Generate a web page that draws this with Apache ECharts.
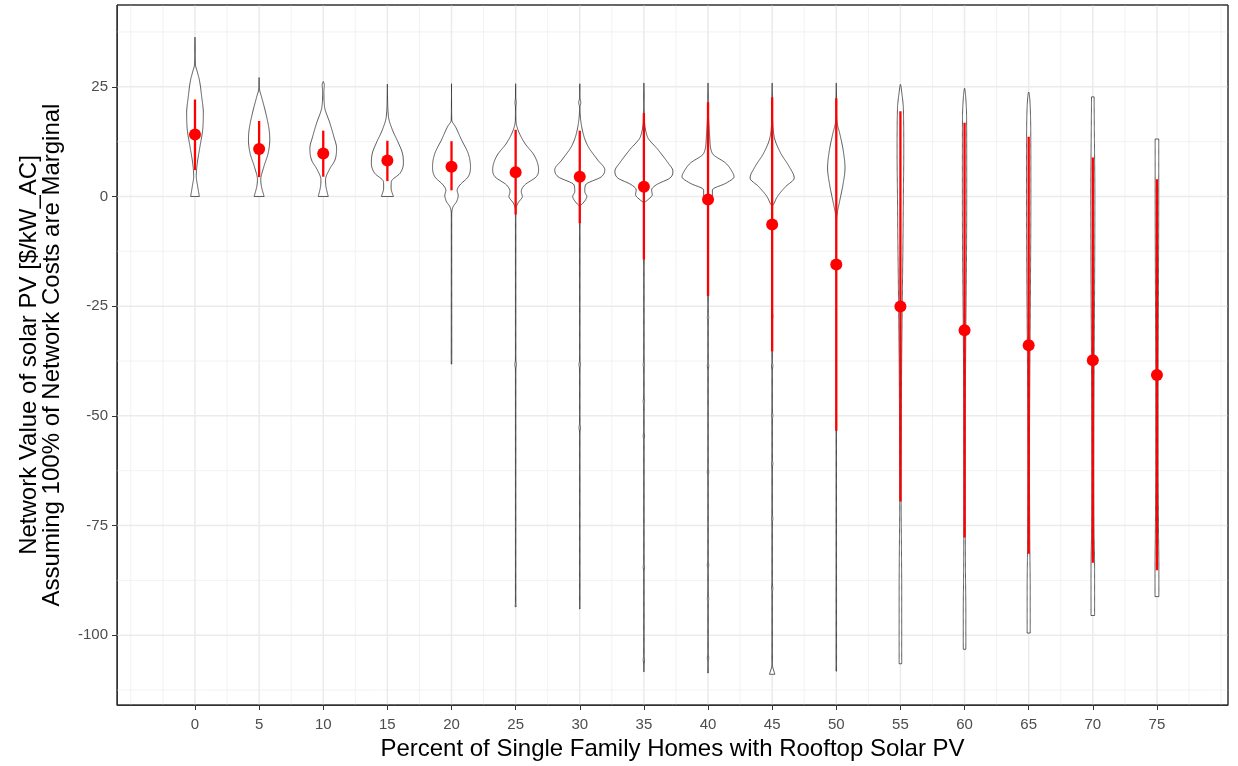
<!DOCTYPE html>
<html>
<head>
<meta charset="utf-8">
<script src="https://cdn.jsdelivr.net/npm/echarts@6/dist/echarts.min.js"></script>
<style>
  html, body { margin: 0; padding: 0; background: #ffffff; }
  #chart { width: 1238px; height: 766px; }
</style>
</head>
<body>
<div id="chart"></div>
<script>
// Penetration levels (percent of single family homes with rooftop PV)
const categories = [0, 5, 10, 15, 20, 25, 30, 35, 40, 45, 50, 55, 60, 65, 70, 75];

// Summary per level: mean and the extent of the red interval
const meanValues  = [14.1, 10.8, 9.8, 8.2, 6.8, 5.5, 4.5, 2.2, -0.7, -6.4, -15.5, -25.1, -30.5, -33.9, -37.3, -40.7];
const lowerValues = [6.0, 4.4, 4.5, 3.5, 1.4, -4.1, -6.1, -14.4, -22.7, -35.3, -53.4, -69.5, -77.7, -81.4, -83.5, -85.2];
const upperValues = [22.1, 17.2, 15.0, 12.7, 12.6, 15.2, 15.0, 19.0, 21.5, 22.6, 22.4, 19.4, 16.8, 13.6, 8.9, 3.9];

// Violin outlines: [value, half-width in axis units], from top to bottom
const density00 = [[36.3,0],[30.4,0.02],[28.1,0.21],[26.6,0.34],[22.8,0.52],[19.0,0.65],[15.2,0.60],[11.4,0.39],[7.6,0.18],[4.6,0.10],[2.3,0.21],[0,0.34]];
const density05 = [[27.1,0],[24.3,0.04],[22.8,0.18],[19.0,0.52],[15.2,0.78],[12.9,0.83],[9.8,0.70],[6.8,0.37],[3.8,0.13],[2.3,0.18],[0,0.39]];
const density10 = [[26.2,0],[25.5,0.08],[23.9,0.05],[20.5,0.10],[16.7,0.52],[13.6,0.83],[11.0,1.04],[8.3,0.91],[6.1,0.47],[3.8,0.18],[2.3,0.21],[0,0.39]];
const density15 = [[25.6,0],[18.3,0.08],[15.2,0.39],[12.2,0.86],[9.9,1.17],[7.6,1.25],[5.3,0.99],[3.4,0.31],[1.9,0.29],[0,0.47]];
const density20 = [[25.7,0],[17.4,0.02],[15.9,0.31],[12.9,0.78],[9.8,1.30],[6.8,1.48],[4.5,1.30],[2.6,0.65],[1.4,0.44],[0.3,0.52],[-1.2,0.39],[-2.3,0.13],[-4,0.015],[-38.2,0.02]];
const density25 = [[25.7,0],[22.4,0.015],[21.4,0.05],[20.4,0.015],[17.4,0.02],[15.2,0.18],[12.2,0.70],[9.2,1.48],[6.1,1.79],[4.5,1.61],[2.6,0.70],[1.1,0.44],[0,0.52],[-1.5,0.18],[-3.0,0.02],[-5,0.015],[-37.3,0.015],[-38.3,0.06],[-39.3,0.015],[-92.5,0.015],[-93.5,0.04]];
const density30 = [[25.7,0],[22.5,0.015],[21.4,0.08],[20.3,0.015],[14.4,0.26],[11.4,0.65],[8.3,1.40],[6.1,1.95],[4.5,1.69],[2.6,0.44],[1.1,0.39],[0,0.55],[-1.5,0.26],[-2.3,0.02],[-4,0.015],[-37.3,0.015],[-38.3,0.06],[-39.3,0.015],[-51.7,0.015],[-52.7,0.06],[-53.7,0.015],[-94.0,0.02]];
const density35 = [[25.8,0.015],[20,0.02],[13.7,0.26],[10.7,1.09],[7.7,1.87],[5.8,2.26],[4.2,2.03],[2.7,0.99],[1.5,0.60],[0.4,0.65],[-0.8,0.29],[-1.5,0.02],[-4,0.015],[-37.3,0.015],[-38.3,0.055],[-39.3,0.015],[-45.7,0.015],[-46.7,0.055],[-47.7,0.015],[-53.6,0.015],[-54.6,0.055],[-55.6,0.015],[-83.4,0.015],[-84.4,0.055],[-85.4,0.015],[-104.6,0.015],[-105.6,0.055],[-106.6,0.015],[-108.3,0.02]];
const density40 = [[25.8,0.015],[20,0.02],[13.6,0.13],[9.8,0.34],[7.6,1.38],[5.7,1.87],[4.5,2.03],[3.0,1.38],[1.5,0.34],[0.3,0.34],[-0.8,0.13],[-1.5,0.02],[-4,0.015],[-26.6,0.015],[-27.6,0.055],[-28.6,0.015],[-37.6,0.015],[-38.6,0.055],[-39.6,0.015],[-61.8,0.015],[-62.8,0.055],[-63.8,0.015],[-83.0,0.015],[-84.0,0.055],[-85.0,0.015],[-90.6,0.015],[-91.6,0.055],[-92.6,0.015],[-104.2,0.015],[-105.2,0.055],[-106.2,0.015],[-108.6,0.02]];
const density45 = [[25.8,0.015],[20,0.02],[13.6,0.16],[9.8,0.68],[6.8,1.33],[4.2,1.72],[2.3,1.07],[0,0.41],[-1.5,0.16],[-2.3,0.02],[-4,0.015],[-26.3,0.015],[-27.3,0.055],[-28.3,0.015],[-37.6,0.015],[-38.6,0.055],[-39.6,0.015],[-48.9,0.015],[-49.9,0.055],[-50.9,0.015],[-59.9,0.015],[-60.9,0.055],[-61.9,0.015],[-72.4,0.015],[-73.4,0.055],[-74.4,0.015],[-88.3,0.015],[-89.3,0.055],[-90.3,0.015],[-106.7,0.02],[-108.9,0.21]];
const density50 = [[25.8,0.015],[20,0.02],[17.1,0.05],[14.1,0.29],[10.3,0.55],[6.5,0.68],[2.7,0.52],[-1.1,0.26],[-4.2,0.05],[-5.7,0.02],[-10,0.015],[-108.2,0.02]];
const density55 = [[25.5,0.02],[24,0.09],[20,0.23],[10,0.26],[0,0.23],[-10,0.20],[-20,0.16],[-40,0.09],[-60,0.06],[-70,0.055],[-80,0.08],[-90,0.10],[-100,0.10],[-106.5,0.10]];
const density60 = [[24.6,0.02],[23,0.08],[18,0.16],[5,0.17],[-10,0.16],[-30,0.10],[-50,0.06],[-70,0.055],[-85,0.07],[-95,0.10],[-103.2,0.10]];
const density65 = [[23.7,0.03],[22,0.09],[15,0.16],[0,0.17],[-20,0.14],[-40,0.09],[-60,0.06],[-80,0.09],[-90,0.12],[-99.5,0.12]];
const density70 = [[22.7,0.10],[15,0.12],[0,0.16],[-20,0.14],[-40,0.10],[-60,0.08],[-75,0.09],[-85,0.14],[-95.5,0.14]];
const density75 = [[13.1,0.14],[0,0.14],[-20,0.12],[-40,0.09],[-60,0.09],[-75,0.12],[-85,0.15],[-91.2,0.15]];

const densities = [density00, density05, density10, density15, density20, density25, density30, density35,
                   density40, density45, density50, density55, density60, density65, density70, density75];

// Axis breaks
const xMajorTicks = [0, 5, 10, 15, 20, 25, 30, 35, 40, 45, 50, 55, 60, 65, 70, 75];
const xMinorTicks = [-5, -2.5, 2.5, 7.5, 12.5, 17.5, 22.5, 27.5, 32.5, 37.5, 42.5, 47.5, 52.5, 57.5, 62.5, 67.5, 72.5, 77.5, 80];
const yMajorTicks = [-100, -75, -50, -25, 0, 25];
const yMinorTicks = [-112.5, -87.5, -62.5, -37.5, -12.5, 12.5, 37.5];

const xTitle = 'Percent of Single Family Homes with Rooftop Solar PV';
const yTitle = ['Network Value of solar PV [$/kW_AC]', 'Assuming 100% of Network Costs are Marginal'];

const FONT = '"Liberation Sans", Arial, sans-serif';

// Monotone cubic (Fritsch–Carlson) resampling of a violin outline
function resampleOutline(profile, step) {
  const n = profile.length;
  const xs = profile.map(p => -p[0]);
  const ys = profile.map(p => p[1]);
  if (n < 3) return profile.slice();
  const delta = [];
  for (let k = 0; k < n - 1; k++) delta.push((ys[k + 1] - ys[k]) / (xs[k + 1] - xs[k]));
  const m = new Array(n);
  m[0] = delta[0];
  m[n - 1] = delta[n - 2];
  for (let k = 1; k < n - 1; k++) {
    m[k] = (delta[k - 1] * delta[k] <= 0) ? 0 : (delta[k - 1] + delta[k]) / 2;
  }
  for (let k = 0; k < n - 1; k++) {
    if (delta[k] === 0) { m[k] = 0; m[k + 1] = 0; continue; }
    const a = m[k] / delta[k], b = m[k + 1] / delta[k];
    const s = a * a + b * b;
    if (s > 9) {
      const t = 3 / Math.sqrt(s);
      m[k] = t * a * delta[k];
      m[k + 1] = t * b * delta[k];
    }
  }
  const out = [];
  for (let k = 0; k < n - 1; k++) {
    const h = xs[k + 1] - xs[k];
    const steps = Math.max(4, Math.ceil(h / step));
    for (let j = 0; j < steps; j++) {
      const t = j / steps;
      const t2 = t * t, t3 = t2 * t;
      const h00 = 2 * t3 - 3 * t2 + 1, h10 = t3 - 2 * t2 + t;
      const h01 = -2 * t3 + 3 * t2, h11 = t3 - t2;
      const w = h00 * ys[k] + h10 * h * m[k] + h01 * ys[k + 1] + h11 * h * m[k + 1];
      out.push([-(xs[k] + t * h), Math.max(0, w)]);
    }
  }
  out.push([profile[n - 1][0], profile[n - 1][1]]);
  return out;
}

const chart = echarts.init(document.getElementById('chart'), null, { renderer: 'canvas' });

const axisLineStyle = { color: '#333333', width: 1 };

const option = {
  backgroundColor: '#ffffff',
  animation: false,
  grid: {
    left: 117, right: 10, top: 5, bottom: 59,
    show: true, borderColor: '#333333', borderWidth: 1, backgroundColor: '#ffffff'
  },
  xAxis: {
    type: 'value',
    position: 'bottom',
    min: -6.08, max: 80.54,
    axisLine: { show: true, onZero: false, lineStyle: axisLineStyle },
    axisTick: { show: true, customValues: xMajorTicks, length: 5, lineStyle: axisLineStyle },
    axisLabel: { customValues: xMajorTicks, color: '#4D4D4D', fontSize: 15, fontFamily: FONT, margin: 12 },
    splitLine: { show: false },
    name: xTitle,
    nameLocation: 'middle',
    nameGap: 32,
    nameTextStyle: { color: '#000000', fontSize: 24, fontFamily: FONT }
  },
  yAxis: {
    type: 'value',
    position: 'left',
    min: -115.9, max: 43.64,
    axisLine: { show: true, onZero: false, lineStyle: axisLineStyle },
    axisTick: { show: true, customValues: yMajorTicks, length: 5, lineStyle: axisLineStyle },
    axisLabel: { customValues: yMajorTicks, color: '#4D4D4D', fontSize: 15, fontFamily: FONT, margin: 9 },
    splitLine: { show: false },
    name: yTitle.join('\n'),
    nameLocation: 'middle',
    nameRotate: 90,
    nameGap: 53,
    nameTextStyle: { color: '#000000', fontSize: 24, lineHeight: 23, fontFamily: FONT, align: 'center' }
  },
  series: [
    {
      // panel grid lines and border
      type: 'custom',
      silent: true,
      z: 1,
      data: [[0, 0]],
      renderItem: function (params, api) {
        const cs = params.coordSys;
        const children = [];
        const vLine = (v, w, c) => {
          const px = api.coord([v, 0])[0];
          if (px <= cs.x || px >= cs.x + cs.width) return;
          children.push({ type: 'line', shape: { x1: px, y1: cs.y, x2: px, y2: cs.y + cs.height }, style: { stroke: c, lineWidth: w } });
        };
        const hLine = (v, w, c) => {
          const py = api.coord([0, v])[1];
          if (py <= cs.y || py >= cs.y + cs.height) return;
          children.push({ type: 'line', shape: { x1: cs.x, y1: py, x2: cs.x + cs.width, y2: py }, style: { stroke: c, lineWidth: w } });
        };
        xMinorTicks.forEach(v => vLine(v, 0.8, '#EFEFEF'));
        yMinorTicks.forEach(v => hLine(v, 0.8, '#EFEFEF'));
        xMajorTicks.forEach(v => vLine(v, 1.5, '#EBEBEB'));
        yMajorTicks.forEach(v => hLine(v, 1.5, '#EBEBEB'));
        children.push({ type: 'rect', shape: { x: cs.x, y: cs.y, width: cs.width, height: cs.height },
                        style: { fill: 'none', stroke: '#333333', lineWidth: 1 } });
        return { type: 'group', children: children };
      }
    },
    {
      // violins
      type: 'custom',
      silent: true,
      z: 2,
      data: categories.map(c => [c, 0]),
      renderItem: function (params, api) {
        const x = categories[params.dataIndex];
        const outline = resampleOutline(densities[params.dataIndex], 0.25);
        const right = outline.map(p => api.coord([x + p[1], p[0]]));
        const left = outline.slice().reverse().map(p => api.coord([x - p[1], p[0]]));
        return {
          type: 'polygon',
          shape: { points: right.concat(left) },
          style: { fill: '#ffffff', stroke: '#333333', lineWidth: 0.8 }
        };
      }
    },
    {
      // red intervals
      type: 'custom',
      silent: true,
      z: 3,
      encode: { x: 0, y: [1, 2] },
      data: categories.map((c, i) => [c, lowerValues[i], upperValues[i]]),
      renderItem: function (params, api) {
        const p1 = api.coord([api.value(0), api.value(1)]);
        const p2 = api.coord([api.value(0), api.value(2)]);
        return {
          type: 'line',
          shape: { x1: p1[0], y1: p1[1], x2: p2[0], y2: p2[1] },
          style: { stroke: '#FF0000', lineWidth: 2.3 }
        };
      }
    },
    {
      // means
      type: 'scatter',
      silent: true,
      z: 4,
      symbol: 'circle',
      symbolSize: 12,
      itemStyle: { color: '#FF0000', opacity: 1 },
      data: categories.map((c, i) => [c, meanValues[i]])
    }
  ]
};

chart.setOption(option);
</script>
</body>
</html>
